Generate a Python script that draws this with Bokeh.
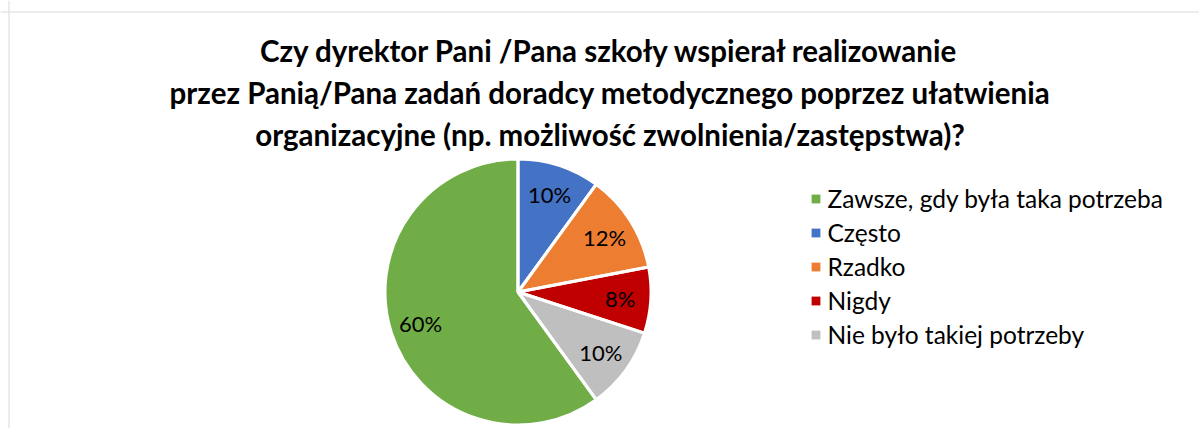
import math
from bokeh.plotting import figure
from bokeh.models import ColumnDataSource, Range1d, Legend, LegendItem, Span
from bokeh.core.properties import value
from bokeh.embed import file_html
from bokeh.resources import INLINE

# ---- data ----
title_lines = [
    "Czy dyrektor Pani /Pana szkoły wspierał realizowanie",
    "przez Panią/Pana zadań doradcy metodycznego poprzez ułatwienia",
    "organizacyjne (np. możliwość zwolnienia/zastępstwa)?",
]
categories = ["Zawsze, gdy była taka potrzeba", "Często", "Rzadko", "Nigdy", "Nie było takiej potrzeby"]
values = [60, 10, 12, 8, 10]
colors = ["#70AD47", "#4472C4", "#ED7D31", "#C00000", "#BFBFBF"]

# ---- layout (1 data unit = 1 pixel) ----
W, H = 1199, 428
cx, cy = 517.5, 136.5
R = 133
first_slice = 144.0  # degrees clockwise from 12 o'clock
label_r = 0.77 * R

total = sum(values)
starts, ends, lx, ly, labels = [], [], [], [], []
cum = 0.0
for v in values:
    t0 = first_slice + 360.0 * cum / total
    t1 = first_slice + 360.0 * (cum + v) / total
    tm = (t0 + t1) / 2
    starts.append(math.radians(90 - t0))
    ends.append(math.radians(90 - t1))
    lx.append(cx + label_r * math.sin(math.radians(tm)))
    ly.append(cy + label_r * math.cos(math.radians(tm)))
    labels.append(f"{round(100 * v / total)}%")
    cum += v

src = ColumnDataSource(dict(cat=categories, val=values, color=colors,
                            start=starts, end=ends, lx=lx, ly=ly, label=labels))

p = figure(width=W, height=H, x_range=Range1d(0, W), y_range=Range1d(0, H),
           output_backend="svg", toolbar_location=None,
           min_border=0, min_border_left=0, min_border_right=0,
           min_border_top=0, min_border_bottom=0)
p.axis.visible = False
p.grid.visible = False
p.outline_line_color = None
p.background_fill_color = "white"
p.border_fill_color = "white"

# chart area border (top and left edges visible in reference)
p.add_layout(Span(location=H - 11.5, dimension="width", line_color="#d9d9d9", line_width=1))
p.add_layout(Span(location=8.5, dimension="height", line_color="#d9d9d9", line_width=1))

# slice fills (used for legend) and white separators on top
fills = p.wedge(x=cx, y=cy, radius=R, radius_units="screen",
                start_angle="start", end_angle="end", direction="clock",
                fill_color="color", line_color=None, source=src)
p.wedge(x=cx, y=cy, radius=R, radius_units="screen",
        start_angle="start", end_angle="end", direction="clock",
        fill_color=None, line_color="white", line_width=3, source=src)

p.text(x="lx", y="ly", text="label", source=src, text_align="center", text_baseline="middle",
       text_font=value("Lato"), text_font_size="22px", text_color="#000000")

# title
tsrc = ColumnDataSource(dict(
    x=[609.5] * len(title_lines),
    y=[H - (50 + 42 * i) for i in range(len(title_lines))],
    t=title_lines))
p.text(x="x", y="y", text="t", source=tsrc, text_align="center", text_baseline="middle",
       text_font=value("Lato"), text_font_style="bold", text_font_size="29.5px",
       text_color="#000000")

# legend
items = [LegendItem(label=c, renderers=[fills], index=i) for i, c in enumerate(categories)]
legend = Legend(items=items, location=(809.5, 79), orientation="vertical",
                glyph_width=11, glyph_height=11, label_height=29, spacing=5,
                label_standoff=7, padding=0, margin=0,
                border_line_color=None, background_fill_alpha=0,
                label_text_font="Lato", label_text_font_size="24.5px",
                label_text_color="#000000")
p.add_layout(legend, "center")

open("out.html", "w").write(file_html(p, INLINE))
